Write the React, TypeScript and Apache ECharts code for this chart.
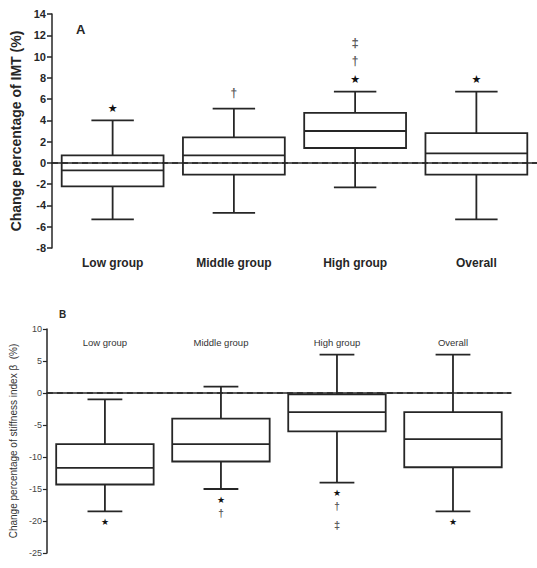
import React, { useEffect, useRef } from "react";
import * as echarts from "echarts";

const categories = ["Low group", "Middle group", "High group", "Overall"];

// [low whisker, Q1, median, Q3, high whisker]
const imtBoxes = [
  [-5.3, -2.2, -0.7, 0.7, 4.0],
  [-4.7, -1.1, 0.7, 2.4, 5.1],
  [-2.3, 1.4, 3.0, 4.7, 6.7],
  [-5.3, -1.1, 0.9, 2.8, 6.7],
];
const imtMarks = [
  [0, 5.1, "★"],
  [1, 6.6, "†"],
  [2, 7.8, "★"],
  [2, 9.6, "†"],
  [2, 11.3, "‡"],
  [3, 7.8, "★"],
];

const stiffBoxes = [
  [-18.5, -14.3, -11.7, -8.0, -1.0],
  [-15.0, -10.7, -8.0, -4.0, 1.0],
  [-14.0, -6.0, -3.0, -0.2, 6.0],
  [-18.5, -11.6, -7.2, -3.0, 6.0],
];
const stiffMarks = [
  [0, -20.2, "★"],
  [1, -16.7, "★"],
  [1, -18.9, "†"],
  [2, -15.7, "★"],
  [2, -17.7, "†"],
  [2, -20.6, "‡"],
  [3, -20.2, "★"],
];

const FONT = "'Liberation Sans', Arial, sans-serif";
const INK = "#262626";

function boxRender(boxRatio: number, capRatio: number) {
  return (params: any, api: any) => {
    const idx = api.value(0);
    const band = api.size([1, 0])[0];
    const bw = band * boxRatio;
    const cw = band * capRatio;
    const pLow = api.coord([idx, api.value(1)]);
    const pQ1 = api.coord([idx, api.value(2)]);
    const pMed = api.coord([idx, api.value(3)]);
    const pQ3 = api.coord([idx, api.value(4)]);
    const pHigh = api.coord([idx, api.value(5)]);
    const cx = pMed[0];
    const style = { stroke: INK, lineWidth: 1.8, fill: "none" };
    return {
      type: "group",
      children: [
        { type: "rect", shape: { x: cx - bw / 2, y: pQ3[1], width: bw, height: pQ1[1] - pQ3[1] }, style },
        { type: "line", shape: { x1: cx - bw / 2, y1: pMed[1], x2: cx + bw / 2, y2: pMed[1] }, style },
        { type: "line", shape: { x1: cx, y1: pQ3[1], x2: cx, y2: pHigh[1] }, style },
        { type: "line", shape: { x1: cx, y1: pQ1[1], x2: cx, y2: pLow[1] }, style },
        { type: "line", shape: { x1: cx - cw / 2, y1: pHigh[1], x2: cx + cw / 2, y2: pHigh[1] }, style },
        { type: "line", shape: { x1: cx - cw / 2, y1: pLow[1], x2: cx + cw / 2, y2: pLow[1] }, style },
      ],
    };
  };
}

function markChar(id: string, i: number): string {
  return (id === "marksA" ? imtMarks[i][2] : stiffMarks[i][2]) as string;
}

function markRender(starSize: number, daggerSize: number) {
  return (params: any, api: any) => {
    const p = api.coord([api.value(0), api.value(1)]);
    const ch = markChar(params.seriesId, params.dataIndex);
    const isStar = ch === "★";
    return {
      type: "text",
      x: p[0],
      y: p[1],
      style: {
        text: ch,
        fill: isStar ? "#111111" : "#5a5a5a",
        fontSize: isStar ? starSize : ch === "‡" ? daggerSize + 1 : daggerSize,
        fontFamily: isStar ? "'DejaVu Sans', sans-serif" : FONT,
        fontWeight: isStar ? "normal" : "bold",
        align: "center",
        verticalAlign: "middle",
      },
    };
  };
}

export default function App() {
  const ref = useRef<HTMLDivElement>(null);
  useEffect(() => {
    if (!ref.current) return;
    const chart = echarts.init(ref.current, undefined, { renderer: "svg" });
    const dashed = {
      silent: true,
      symbol: "none",
      label: { show: false },
      lineStyle: { type: [6, 4], color: INK, width: 1.5 },
      data: [{ yAxis: 0 }],
    };
    chart.setOption({
      animation: false,
      backgroundColor: "#ffffff",
      textStyle: { fontFamily: FONT },
      grid: [
        { left: 52, top: 14, width: 488, height: 234 },
        { left: 45, top: 329, width: 466, height: 224 },
      ],
      xAxis: [
        {
          gridIndex: 0,
          type: "category",
          data: categories,
          axisLine: { lineStyle: { color: INK, width: 1.5 } },
          axisTick: { inside: true, alignWithLabel: true, length: 4, lineStyle: { color: INK, width: 1.5 } },
          axisLabel: { fontSize: 12, fontWeight: "bold", color: INK, margin: 9, fontFamily: FONT },
          splitLine: { show: false },
        },
        {
          gridIndex: 1,
          type: "category",
          position: "top",
          data: categories,
          axisLine: { lineStyle: { color: INK, width: 1.5 } },
          axisTick: { inside: true, alignWithLabel: true, length: 4, lineStyle: { color: INK, width: 1.5 } },
          axisLabel: { inside: true, fontSize: 9.5, color: "#333", margin: 8, fontFamily: FONT },
          splitLine: { show: false },
        },
      ],
      yAxis: [
        {
          gridIndex: 0,
          type: "value",
          min: -8,
          max: 14,
          interval: 2,
          name: "Change percentage of IMT (%)",
          nameLocation: "middle",
          nameGap: 29,
          nameTextStyle: { fontSize: 14, fontWeight: "bold", color: INK, fontFamily: FONT },
          axisLine: { show: true, lineStyle: { color: INK, width: 1.5 } },
          axisTick: { show: true, length: 5, lineStyle: { color: INK, width: 1.5 } },
          axisLabel: { fontSize: 11, fontWeight: "bold", color: INK, margin: 6, fontFamily: FONT },
          splitLine: { show: false },
        },
        {
          gridIndex: 1,
          type: "value",
          min: -25,
          max: 10,
          interval: 5,
          name: "Change percentage of stiffness index β  (%)",
          nameLocation: "middle",
          nameGap: 23,
          nameTextStyle: { fontSize: 10, color: "#333", fontFamily: FONT },
          axisLine: { show: true, lineStyle: { color: INK, width: 1.5 } },
          axisTick: { show: true, length: 4, lineStyle: { color: INK, width: 1.2 } },
          axisLabel: { fontSize: 9, color: "#444", margin: 5, fontFamily: FONT },
          splitLine: { show: false },
        },
      ],
      graphic: [
        { type: "text", left: 76, top: 23, style: { text: "A", fontSize: 13, fontWeight: "bold", fill: INK, fontFamily: FONT } },
        { type: "text", left: 59, top: 309, style: { text: "B", fontSize: 10, fontWeight: "bold", fill: INK, fontFamily: FONT } },
      ],
      series: [
        {
          id: "boxA",
          type: "custom",
          xAxisIndex: 0,
          yAxisIndex: 0,
          renderItem: boxRender(0.84, 0.35),
          encode: { x: 0, y: [1, 2, 3, 4, 5] },
          data: imtBoxes.map((d, i) => [i, ...d]),
          markLine: dashed,
          z: 3,
        },
        {
          id: "marksA",
          type: "custom",
          xAxisIndex: 0,
          yAxisIndex: 0,
          renderItem: markRender(11, 12),
          encode: { x: 0, y: 1 },
          data: imtMarks.map((m) => [m[0], m[1]]),
          z: 4,
        },
        {
          id: "boxB",
          type: "custom",
          xAxisIndex: 1,
          yAxisIndex: 1,
          renderItem: boxRender(0.84, 0.3),
          encode: { x: 0, y: [1, 2, 3, 4, 5] },
          data: stiffBoxes.map((d, i) => [i, ...d]),
          markLine: dashed,
          z: 3,
        },
        {
          id: "marksB",
          type: "custom",
          xAxisIndex: 1,
          yAxisIndex: 1,
          renderItem: markRender(9, 10),
          encode: { x: 0, y: 1 },
          data: stiffMarks.map((m) => [m[0], m[1]]),
          z: 4,
        },
      ],
    });
    return () => chart.dispose();
  }, []);
  return (
    <div
      ref={ref}
      style={{ position: "absolute", left: 0, top: 0, width: 537, height: 568, background: "#fff" }}
    />
  );
}
